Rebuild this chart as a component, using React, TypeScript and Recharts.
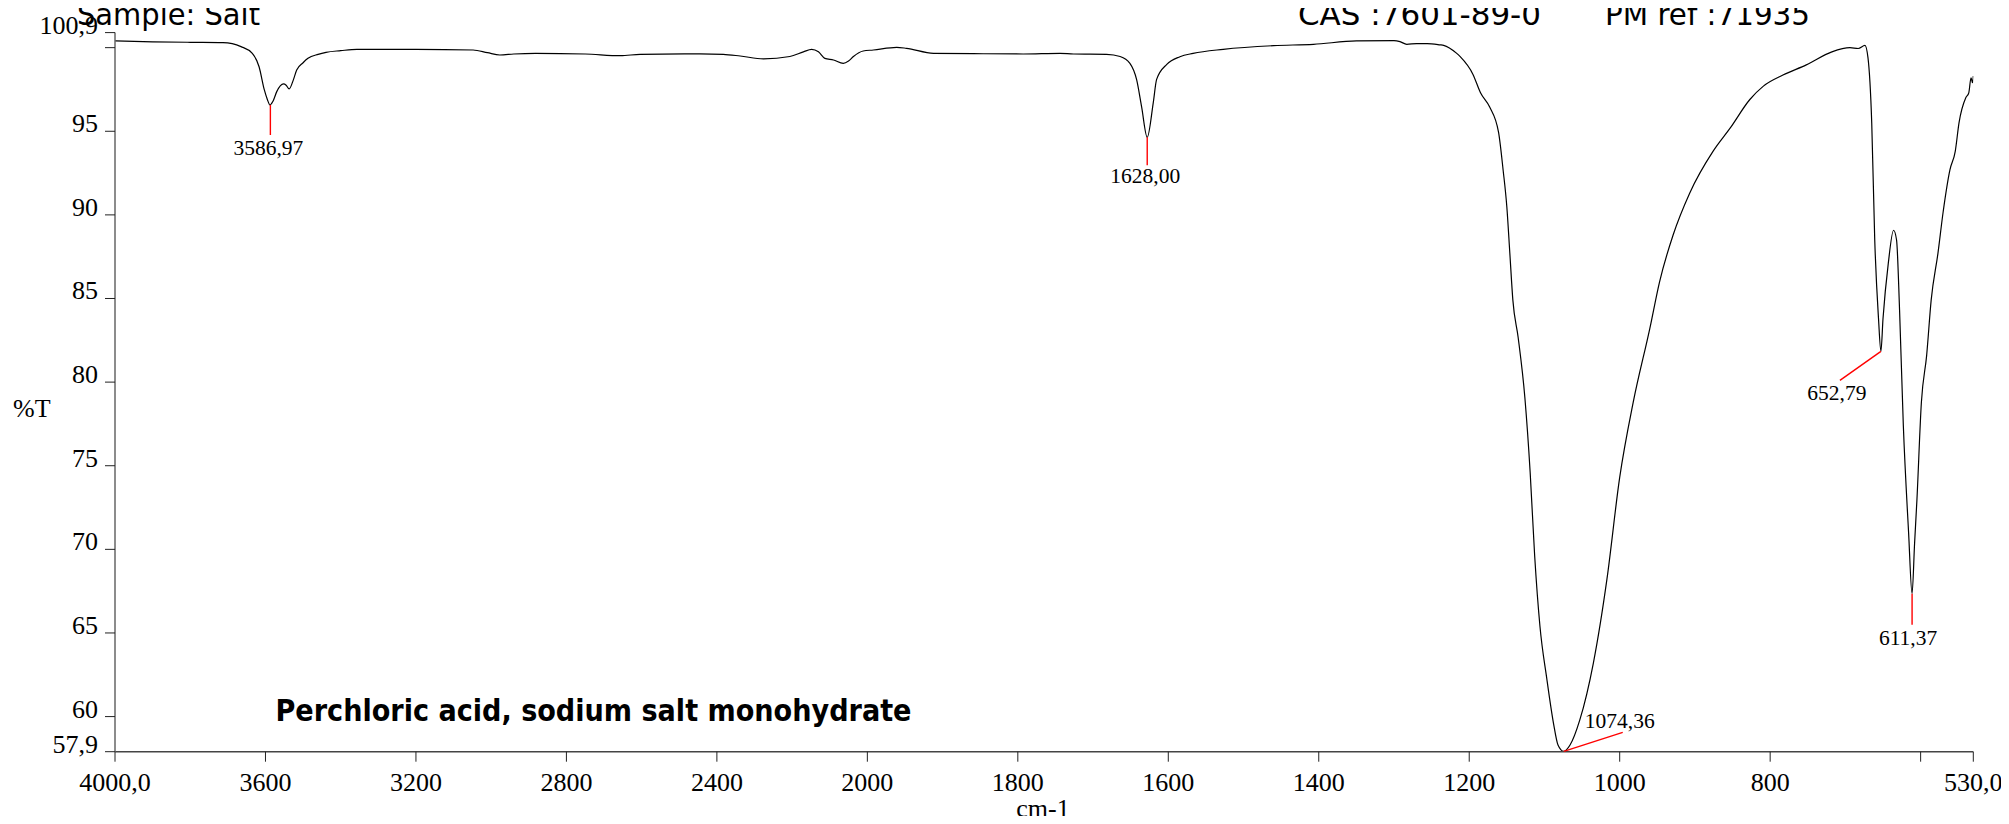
import React from 'react';
import { ComposedChart, Line, XAxis, YAxis, ReferenceDot } from 'recharts';

// ---- data ----
const wavenumbers = [
  4000, 3900, 3800, 3713, 3665, 3635, 3617, 3603, 3595, 3588, 3580, 3570, 3552, 3545, 3537, 3527,
  3517, 3500, 3487, 3460, 3439, 3400, 3357, 3200, 3048, 3010, 2977, 2940, 2882, 2750, 2656, 2604,
  2445, 2383, 2338, 2276, 2206, 2170, 2148, 2130, 2113, 2090, 2064, 2050, 2037, 2011, 1992, 1961,
  1948, 1912, 1859, 1793, 1744, 1726, 1682, 1664, 1651, 1642, 1635.5, 1628, 1620, 1615.5,
  1602, 1584.5, 1567, 1527, 1460, 1407, 1350, 1300, 1292, 1283, 1270, 1256, 1239, 1234, 1217, 1212,
  1195, 1185, 1173, 1161, 1155, 1150, 1146, 1142, 1135, 1126, 1119, 1113, 1106, 1097, 1088, 1082,
  1074.4, 1066, 1053, 1035, 1017, 1000, 982, 960, 947, 929, 907, 876, 853, 827, 809, 783, 752, 718,
  694, 683, 674, 670, 665, 661, 656, 652.8, 650, 643, 636, 632, 628, 623, 616, 611.4, 608, 605, 599,
  592, 586, 577, 570, 561, 554, 549, 540, 536, 533, 531, 530,
];
const transmittance = [
  100.4, 100.35, 100.32, 100.3, 100.06, 99.66, 98.86, 97.47, 96.9, 96.57, 96.8, 97.37, 97.83, 97.75, 97.53, 98.0,
  98.66, 99.1, 99.36, 99.6, 99.72, 99.82, 99.9, 99.9, 99.86, 99.7, 99.56, 99.62, 99.66, 99.62, 99.52, 99.6,
  99.63, 99.6, 99.5, 99.33, 99.47, 99.75, 99.9, 99.75, 99.36, 99.26, 99.06, 99.2, 99.47, 99.8, 99.86, 100.02,
  99.96, 99.66, 99.64, 99.62, 99.66, 99.62, 99.6, 99.47, 99.06, 98.07, 96.47, 94.64, 96.7, 98.1,
  99.0, 99.46, 99.66, 99.9, 100.12, 100.2, 100.4, 100.42, 100.36, 100.2, 100.24, 100.24, 100.17, 100.14, 99.67, 99.46,
  98.4, 97.3, 96.46, 94.93, 92.7, 90.47, 87.69, 84.9, 82.68, 79.05, 74.6, 69.6, 65.4, 62.3, 59.6, 58.3,
  57.92, 58.3, 59.8, 63.2, 68.2, 74.3, 78.8, 83.2, 86.0, 88.8, 91.3, 93.8, 95.2, 96.9, 97.7, 98.36, 98.97, 99.75,
  100.0, 99.95, 100.14, 99.4, 95.5, 88.5, 83.8, 81.84, 83.8, 87.1, 89.08, 88.5, 84.3, 77.4, 71.0, 67.35, 70.4, 72.9, 78.8,
  81.6, 84.9, 87.7, 90.2, 92.7, 93.8, 95.5, 97.0, 97.3, 98.2, 97.9, 98.3,
];

const xTickWavenumbers = [4000, 3600, 3200, 2800, 2400, 2000, 1800, 1600, 1400, 1200, 1000, 800, 600, 530];
const xTickLabels = ['4000,0', '3600', '3200', '2800', '2400', '2000', '1800', '1600', '1400', '1200', '1000', '800', '', '530,0'];
const yTickValues = [57.9, 60, 65, 70, 75, 80, 85, 90, 95, 100, 100.9];
const yTickLabels = ['57,9', '60', '65', '70', '75', '80', '85', '90', '95', '', '100,9'];

const peakWavenumbers = [3586.97, 1628.0, 1074.36, 652.79, 611.37];
const peakTransmittance = [96.57, 94.64, 57.92, 81.84, 67.35];
const peakLabels = ['3586,97', '1628,00', '1074,36', '652,79', '611,37'];

const titleLeft = 'Sample: Salt';
const titleCas = 'CAS :7601-89-0';
const titleRef = 'PM ref :71935';
const compoundName = 'Perchloric acid, sodium salt monohydrate';
const xAxisTitle = 'cm-1';
const yAxisTitle = '%T';

// ---- axis transform: scale doubles below 2000 cm-1 ----
const toPos = (w: number) => (w >= 2000 ? 4000 - w : 2000 + (2000 - w) * 2);
const X_MAX = toPos(530);

const specRows = wavenumbers.map((w, i) => ({ pos: toPos(w), T: transmittance[i] }));
const xTickPositions = xTickWavenumbers.map(toPos);

// ---- styles ----
const W = 1993;
const H = 808;
const SERIF = "'Liberation Serif', 'Times New Roman', serif";
const COMIC = "'Comic Sans MS', 'DejaVu Sans', sans-serif";

const peakMarks = [
  { lx: 0, ly: 30, tx: -2, ty: 50, anchor: 'middle' },
  { lx: 0, ly: 28, tx: -2, ty: 46, anchor: 'middle' },
  { lx: 59, ly: -19, tx: 21, ty: -23, anchor: 'start' },
  { lx: -41, ly: 29, tx: -44, ty: 49, anchor: 'middle' },
  { lx: 0, ly: 31, tx: -4, ty: 51, anchor: 'middle' },
];

const XTick = (props: any) => {
  const { x, y, payload } = props;
  const idx = xTickPositions.findIndex((p) => Math.abs(p - payload.value) < 0.01);
  const label = idx >= 0 ? xTickLabels[idx] : '';
  return (
    <text x={x} y={y + 27} textAnchor="middle" fontFamily={SERIF} fontSize={26} fill="#000">
      {label}
    </text>
  );
};

const YTick = (props: any) => {
  const { x, y, payload } = props;
  const idx = yTickValues.findIndex((v) => Math.abs(v - payload.value) < 0.001);
  const label = idx >= 0 ? yTickLabels[idx] : '';
  return (
    <text x={x - 5} y={y + 1} textAnchor="end" fontFamily={SERIF} fontSize={26} fill="#000">
      {label}
    </text>
  );
};

const makePeakShape = (i: number) => (props: any) => {
  const { cx, cy } = props;
  const m = peakMarks[i];
  return (
    <g>
      <line x1={cx} y1={cy} x2={cx + m.lx} y2={cy + m.ly} stroke="#ff0000" strokeWidth={1.4} />
      <text
        x={cx + m.tx}
        y={cy + m.ty}
        textAnchor={m.anchor as any}
        fontFamily={SERIF}
        fontSize={21.5}
        fill="#000"
      >
        {peakLabels[i]}
      </text>
    </g>
  );
};

export default function App() {
  return (
    <div style={{ position: 'relative', width: W, height: H, background: '#fff' }}>
      <ComposedChart
        width={W}
        height={H}
        data={specRows}
        margin={{ top: 24.6, right: 27.7, bottom: 24.3, left: 0 }}
      >
        <XAxis
          dataKey="pos"
          type="number"
          domain={[0, X_MAX]}
          ticks={xTickPositions}
          interval={0}
          allowDataOverflow
          height={40}
          tickSize={10}
          tickMargin={2}
          stroke="#444"
          tickLine={{ stroke: '#222' }}
          axisLine={{ stroke: '#444', strokeWidth: 1.5 }}
          tick={<XTick />}
        />
        <YAxis
          type="number"
          domain={[57.9, 100.9]}
          ticks={yTickValues}
          interval={0}
          allowDataOverflow
          width={107}
          tickSize={10}
          tickMargin={2}
          stroke="#555"
          tickLine={{ stroke: '#222' }}
          axisLine={{ stroke: '#666', strokeWidth: 1.5 }}
          tick={<YTick />}
        />
        <Line
          dataKey="T"
          type="monotone"
          stroke="#000"
          strokeWidth={1.2}
          dot={false}
          activeDot={false}
          isAnimationActive={false}
        />
        {peakWavenumbers.map((w, i) => (
          <ReferenceDot
            key={peakLabels[i]}
            x={toPos(w)}
            y={peakTransmittance[i]}
            r={0}
            ifOverflow="visible"
            shape={makePeakShape(i)}
          />
        ))}
      </ComposedChart>
      <svg
        width={W}
        height={H}
        style={{ position: 'absolute', left: 0, top: 0, overflow: 'visible', pointerEvents: 'none' }}
      >
        <text x={69} y={16.5} fontFamily={COMIC} fontSize={30} textLength={183} lengthAdjust="spacingAndGlyphs" fill="#000">
          {titleLeft}
        </text>
        <text x={1290} y={17} fontFamily={COMIC} fontSize={30} textLength={243} lengthAdjust="spacingAndGlyphs" fill="#000">
          {titleCas}
        </text>
        <text x={1597} y={17} fontFamily={COMIC} fontSize={30} textLength={205} lengthAdjust="spacingAndGlyphs" fill="#000">
          {titleRef}
        </text>
        <text x={267.5} y={712.7} fontFamily={COMIC} fontWeight="bold" fontSize={31} textLength={636} lengthAdjust="spacingAndGlyphs" fill="#000">
          {compoundName}
        </text>
        <text x={5} y={409} fontFamily={SERIF} fontSize={26} fill="#000">
          {yAxisTitle}
        </text>
        <text x={1035} y={809} textAnchor="middle" fontFamily={SERIF} fontSize={26} fill="#000">
          {xAxisTitle}
        </text>
      </svg>
    </div>
  );
}
